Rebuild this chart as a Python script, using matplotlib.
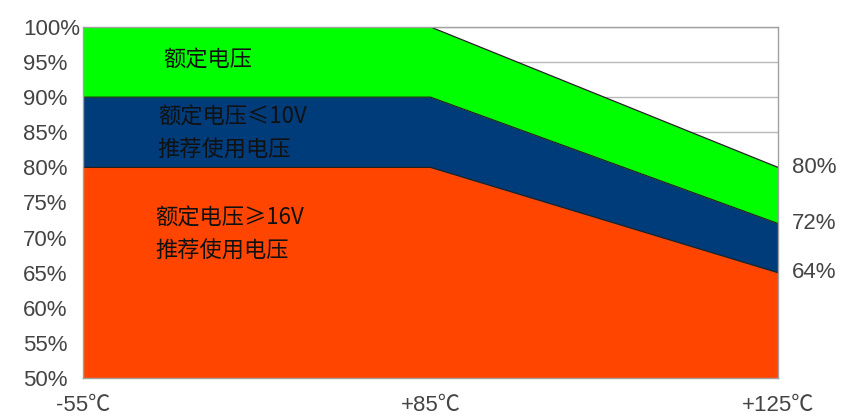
import matplotlib.pyplot as plt
import numpy as np

plt.rcParams['font.family'] = ['Liberation Sans', 'Noto Sans CJK SC', 'DejaVu Sans']

# 温度点（类别位置）
temps = ['-55℃', '+85℃', '+125℃']
x = np.arange(len(temps))

# 各区域上边界（%）
orange_top = [80, 80, 65]
blue_top = [90, 90, 72]
green_top = [100, 100, 80]

yticks = [50, 55, 60, 65, 70, 75, 80, 85, 90, 95, 100]
right_labels = ['80%', '72%', '64%']

fig = plt.figure(figsize=(8.57, 4.17), dpi=100)
ax = fig.add_axes([0.0969, 0.0935, 0.8109, 0.8418])

ax.fill_between(x, 50, orange_top, color='#FF4500', zorder=2, lw=0)
ax.fill_between(x, orange_top, blue_top, color='#003B7A', zorder=2, lw=0)
ax.fill_between(x, blue_top, green_top, color='#00FF00', zorder=2, lw=0)
for top in (orange_top, blue_top, green_top):
    ax.plot(x, top, color='#222222', lw=0.9, zorder=3)

ax.set_xlim(0, 2)
ax.set_ylim(50, 100)
ax.set_yticks(yticks)
ax.set_yticklabels([f'{v}%' for v in yticks])
ax.set_xticks(x)
ax.set_xticklabels(temps)
ax.grid(axis='y', color='#b8b8b8', lw=1, zorder=1)
ax.tick_params(axis='y', length=0, pad=43, labelsize=16, labelcolor='#444444')
ax.tick_params(axis='x', length=0, pad=12, labelsize=16, labelcolor='#444444')
for lab in ax.get_yticklabels():
    lab.set_horizontalalignment('left')
for s in ax.spines.values():
    s.set_color('#a0a0a0')
    s.set_linewidth(1)
    s.set_zorder(4)

# 右侧百分比标注
for lab, yv in zip(right_labels, [green_top[-1], blue_top[-1], orange_top[-1]]):
    ax.text(2.04, yv, lab, fontsize=16, color='#444444', va='center', ha='left',
            clip_on=False)

# 区域说明文字
tc = '#111111'
cjk = ['Noto Sans CJK SC', 'DejaVu Sans']
notes = [
    (0.23, 95.3, '额定电压'),
    (0.215, 87.2, '额定电压≤10V'),
    (0.215, 82.5, '推荐使用电压'),
    (0.207, 72.8, '额定电压≥16V'),
    (0.207, 68.0, '推荐使用电压'),
]
for nx, ny, s in notes:
    ax.text(nx, ny, s, fontsize=16, color=tc, va='center', ha='left', family=cjk)

plt.savefig('out.png', dpi=100)
